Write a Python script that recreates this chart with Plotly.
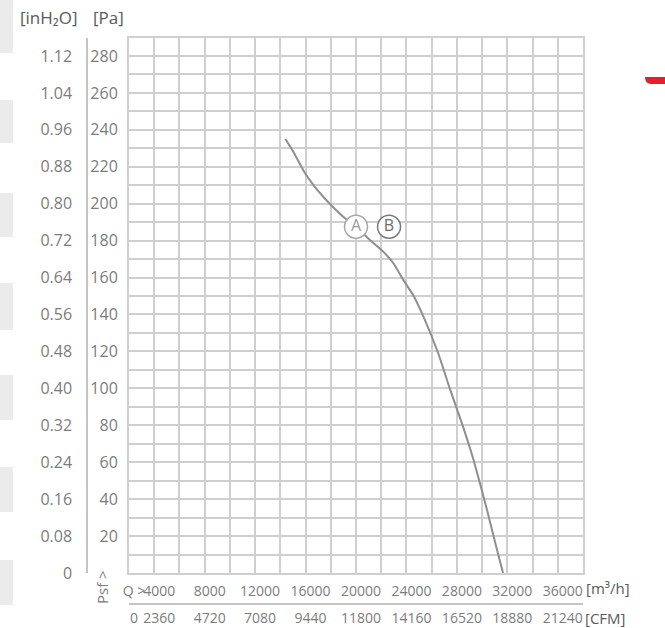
import plotly.graph_objects as go

# ---- data ----
flow_m3h = [14400, 15040, 15830, 16630, 17420, 18210, 19010, 20000, 21130, 22180,
            22980, 23770, 24540, 25330, 26520, 27480, 28400, 29330, 30390, 31050, 31660]
psf_pa = [235, 228, 218, 210, 203.6, 197.9, 192.8, 187.4, 180.2, 173.9,
          167.6, 158.5, 150.4, 139.1, 119.0, 99, 81, 61.1, 34.1, 16.1, 0]

label_names = ["A", "B"]
label_flow = [20000, 22620]
label_pa = [187.5, 187.5]

x_tickvals = [2000, 4000, 8000, 12000, 16000, 20000, 24000, 28000, 32000, 36000]
x_ticktext = ["Q >", "4000", "8000", "12000", "16000", "20000", "24000", "28000", "32000", "36000"]
cfm_ticktext = ["0", "2360", "4720", "7080", "9440", "11800", "14160", "16520", "18880", "21240"]

pa_tickvals = [20, 40, 60, 80, 100, 120, 140, 160, 180, 200, 220, 240, 260, 280]
inh2o_tickvals = [0, 0.08, 0.16, 0.24, 0.32, 0.40, 0.48, 0.56, 0.64, 0.72, 0.80, 0.88, 0.96, 1.04, 1.12]
inh2o_ticktext = ["0", "0.08", "0.16", "0.24", "0.32", "0.40", "0.48", "0.56", "0.64", "0.72",
                  "0.80", "0.88", "0.96", "1.04", "1.12"]

W, H = 665, 628
GRID = "#cfcfcf"
TXT = "#7c7c7c"
FONT = "Open Sans"

def px(x):
    return x / W

def py(y):
    return (H - y) / H

fig = go.Figure()

fig.add_trace(go.Scatter(
    x=flow_m3h, y=psf_pa, mode="lines",
    line=dict(color="#8f8f8f", width=2, shape="spline", smoothing=0.4),
    hoverinfo="skip", showlegend=False))

# invisible companion trace on secondary (CFM / inH2O) axes
fig.add_trace(go.Scatter(
    x=flow_m3h, y=[v / 250 for v in psf_pa], xaxis="x2", yaxis="y2",
    mode="lines", line=dict(width=0), opacity=0, hoverinfo="skip", showlegend=False))

fig.add_trace(go.Scatter(
    x=label_flow, y=label_pa, mode="markers+text", text=label_names,
    textposition="middle center",
    textfont=dict(family=FONT, size=16, color=["#9a9a9a", "#6f6f6f"]),
    marker=dict(symbol="circle", size=23, color="white",
                line=dict(color=["#a8a8a8", "#7a7a7a"], width=1.5)),
    hoverinfo="skip", showlegend=False))

x_dom = [px(129), px(583)]
y_dom = [py(573), py(37.5)]

fig.update_layout(
    width=W, height=H,
    margin=dict(l=0, r=0, t=0, b=0, autoexpand=False),
    paper_bgcolor="white", plot_bgcolor="white",
    font=dict(family=FONT, color=TXT),
    xaxis=dict(
        domain=x_dom, range=[2000, 38000], automargin=False,
        tickvals=x_tickvals, ticktext=x_ticktext,
        ticks="", tickangle=0, ticklabelshift=5,
        tickfont=dict(size=14, color=TXT), ticklabelstandoff=4,
        showgrid=True, gridcolor=GRID, gridwidth=2,
        minor=dict(tick0=0, dtick=2000, showgrid=True, gridcolor=GRID, gridwidth=2),
        showline=True, linecolor=GRID, linewidth=2, mirror=True, zeroline=False,
    ),
    xaxis2=dict(
        overlaying="x", anchor="free", position=py(604), side="bottom", automargin=False,
        range=[2000, 38000], tickvals=x_tickvals, ticktext=cfm_ticktext,
        ticks="", tickangle=0, ticklabelshift=5,
        tickfont=dict(size=14, color=TXT), ticklabelstandoff=1,
        showgrid=False, showline=True, linecolor="#c4c4c4", linewidth=1.5, zeroline=False,
    ),
    yaxis=dict(
        domain=y_dom, range=[0, 290], automargin=False,
        tickvals=pa_tickvals, ticks="",
        tickfont=dict(size=16, color=TXT), ticklabelstandoff=6,
        showgrid=True, gridcolor=GRID, gridwidth=2,
        minor=dict(tick0=0, dtick=10, showgrid=True, gridcolor=GRID, gridwidth=2),
        showline=True, linecolor=GRID, linewidth=2, mirror=True, zeroline=False,
    ),
    yaxis2=dict(
        overlaying="y", anchor="free", position=px(87), side="left", automargin=False,
        range=[0, 1.16], tickvals=inh2o_tickvals, ticktext=inh2o_ticktext, ticks="",
        tickfont=dict(size=16, color=TXT), ticklabelstandoff=11,
        showgrid=False, showline=True, linecolor="#c4c4c4", linewidth=1.5, zeroline=False,
    ),
)

ann_font = dict(family=FONT, size=17, color="#5a5a5a")
small_font = dict(family=FONT, size=15, color="#5a5a5a")
fig.add_annotation(x=px(49), y=py(18), xref="paper", yref="paper", text="[inH₂O]",
                   xanchor="center", yanchor="middle", showarrow=False, font=ann_font)
fig.add_annotation(x=px(108), y=py(18), xref="paper", yref="paper", text="[Pa]",
                   xanchor="center", yanchor="middle", showarrow=False, font=ann_font)
fig.add_annotation(x=px(584), y=py(588), xref="paper", yref="paper", text="[m³/h]",
                   xanchor="left", yanchor="middle", showarrow=False, font=small_font)
fig.add_annotation(x=px(583), y=py(618), xref="paper", yref="paper", text="[CFM]",
                   xanchor="left", yanchor="middle", showarrow=False, font=small_font)
fig.add_annotation(x=px(102), y=py(587), xref="paper", yref="paper", text="Psf >",
                   xanchor="center", yanchor="middle",
                   textangle=-90, showarrow=False, font=dict(family=FONT, size=15, color=TXT))

# left decorative strip (alternating bands)
bands = [(0, 53), (100, 143), (193, 237), (283, 330), (375, 420), (467, 512), (560, 605)]
for y0, y1 in bands:
    fig.add_shape(type="rect", xref="paper", yref="paper",
                  x0=0, x1=px(13), y0=py(y1), y1=py(y0),
                  fillcolor="#ebebeb", line=dict(width=0), layer="below")

# red corner mark
path = (f"M {px(645)},{py(77)} L {px(665)},{py(77)} L {px(665)},{py(84)} "
        f"L {px(651)},{py(84)} Q {px(645)},{py(84)} {px(645)},{py(77)} Z")
fig.add_shape(type="path", xref="paper", yref="paper", path=path,
              fillcolor="#e3202a", line=dict(width=0))

fig.write_html(
    "out.html",
    config={"displayModeBar": False},
    post_script="document.body.style.margin='0';document.body.style.padding='0';"
                "document.body.style.overflow='hidden';",
)
